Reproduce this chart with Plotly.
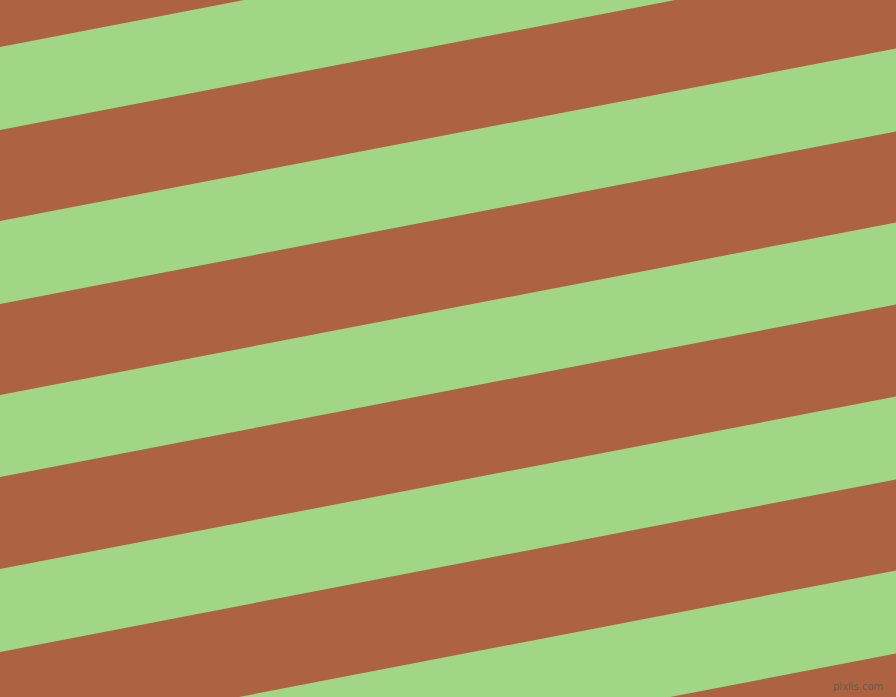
import plotly.graph_objects as go

# Stripe data: y position (px from top) where each green band starts/ends at the left edge
band_top_left = [-127, 47, 221, 395, 569, 743]
band_bottom_left = [-44, 130, 304, 477, 652, 826]
slope = 0.1925  # vertical rise per horizontal pixel
width = 896
height = 697

brown = "#AD6341"
green = "#A0D686"

fig = go.Figure()
for a, b in zip(band_top_left, band_bottom_left):
    xs = [0, width, width, 0, 0]
    ys = [a, a - slope * width, b - slope * width, b, a]
    fig.add_trace(go.Scatter(x=xs, y=ys, mode="lines", fill="toself",
                             fillcolor=green, line=dict(width=0, color=green),
                             hoverinfo="skip", showlegend=False))

fig.add_annotation(x=885, y=694, xref="x", yref="y", text="pixlis.com",
                   showarrow=False, xanchor="right", yanchor="bottom",
                   font=dict(family="DejaVu Sans", size=10, color="#6e5a48"))

fig.update_layout(width=width, height=height, margin=dict(l=0, r=0, t=0, b=0),
                  paper_bgcolor=brown, plot_bgcolor=brown, showlegend=False)
fig.update_xaxes(range=[0, width], visible=False, fixedrange=True)
fig.update_yaxes(range=[height, 0], visible=False, fixedrange=True)
fig.write_html("out.html", config={"displayModeBar": False},
               post_script="document.body.style.margin='0';document.body.style.overflow='hidden';")
